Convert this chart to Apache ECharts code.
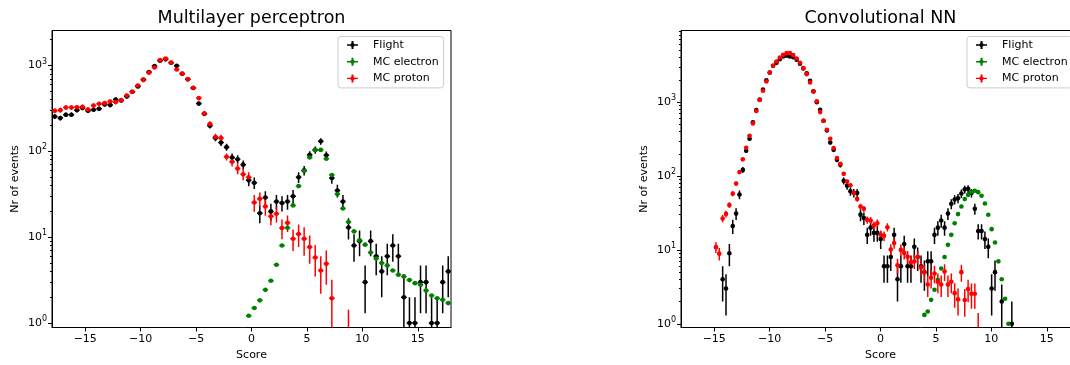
<!DOCTYPE html>
<html><head><meta charset="utf-8">
<script src="https://cdn.jsdelivr.net/npm/echarts@6/dist/echarts.min.js"></script>
<style>html,body{margin:0;padding:0;background:#fff}#c{width:1070px;height:365px}</style>
</head><body><div id="c"></div>
<script>
// ---------- data ----------
const titles = ['Multilayer perceptron', 'Convolutional NN'];
const seriesNames = ['Flight', 'MC electron', 'MC proton'];
const xTicks = [-15, -10, -5, 0, 5, 10, 15];
const yMajorTicks = [1, 10, 100, 1000];
const yMinorTicksLeft = [2,3,4,5,6,7,8,9,20,30,40,50,60,70,80,90,200,300,400,500,600,700,800,900,2000];
const yMinorTicksRight = [2,3,4,5,6,7,8,9,20,30,40,50,60,70,80,90,200,300,400,500,600,700,800,900,2000,3000,4000,5000,6000,7000,8000,9000];

// Left panel (Multilayer perceptron), bin centres
const leftBins = [-17.75,-17.25,-16.75,-16.25,-15.75,-15.25,-14.75,-14.25,-13.75,-13.25,-12.75,-12.25,-11.75,-11.25,-10.75,-10.25,-9.75,-9.25,-8.75,-8.25,-7.75,-7.25,-6.75,-6.25,-5.75,-5.25,-4.75,-4.25,-3.75,-3.25,-2.75,-2.25,-1.75,-1.25,-0.75,-0.25,0.25,0.75,1.25,1.75,2.25,2.75,3.25,3.75,4.25,4.75,5.25,5.75,6.25,6.75,7.25,7.75,8.25,8.75,9.25,9.75,10.25,10.75,11.25,11.75,12.25,12.75,13.25,13.75,14.25,14.75,15.25,15.75,16.25,16.75,17.25,17.75];
const leftFlight = [255,244,267,267,302,320,297,305,313,351,346,402,391,435,494,569,687,838,984,1135,1180,1075,991,800,690,546,360,274,199,143,127,112,85,81,70,46,43,19,29,20,26,25,26,30,50,60,91,104,131,90,49,35,26,13,8,9,3,9,6,4,6,8,6,2,1,1,3,3,1,1,3,4];
const leftFlightErr = [16.0,15.6,16.3,16.3,17.4,17.9,17.2,17.5,17.7,18.7,18.6,20.0,19.8,20.9,22.2,23.9,26.2,28.9,31.4,33.7,34.4,32.8,31.5,28.3,26.3,23.4,19.0,16.6,14.1,12.0,11.3,10.6,9.2,9.0,8.4,6.8,6.6,4.4,5.4,4.5,5.1,5.0,5.1,5.5,7.1,7.7,9.5,10.2,11.4,9.5,7.0,5.9,5.1,3.6,2.8,3.0,1.7,3.0,2.4,2.0,2.4,2.8,2.4,1.4,1.0,1.0,1.7,1.7,1.0,1.0,1.7,2.0];
const leftElectron = [null,null,null,null,null,null,null,null,null,null,null,null,null,null,null,null,null,null,null,null,null,null,null,null,null,null,null,null,null,null,null,null,null,null,
  0.87,1.22,1.5,1.84,2.44,3.11,4.78,8.0,12.9,23.5,39.4,59.5,85,104,104,82,53,31.8,21.6,15,11.7,9.2,8.2,6.65,5.66,5.0,4.7,4.1,3.66,3.5,3.17,2.92,2.8,2.4,2.1,1.95,1.87,1.71];
const leftProton = [297,302,324,324,327,330,307,342,358,365,381,375,395,447,494,585,676,822,948,1156,1205,1084,898,807,693,550,417,276,208,147,143,86.5,75.5,63,54,50,25.4,28,22.8,17.5,18.8,12.8,14.7,9.6,10.9,9.6,7.7,5.8,4.1,4.9,1.95,null,null,0.7,
  null,null,null,null,null,null,null,null,null,null,null,null,null,null,null,null,null,null];
const leftProtonErr = [19,19,20,20,20,20,19,20,21,21,21,21,22,23,24,27,29,32,34,37,38,36,33,31,29,26,22,18,16,13,13,8,9,9,8,7,5.6,5.3,5,3.7,4,3.3,3.2,2.7,3.2,3.5,2.8,2.3,1.9,2.1,1.25,0,0,0.73,
  0,0,0,0,0,0,0,0,0,0,0,0,0,0,0,0,0,0];

// Right panel (Convolutional NN), bin centres
const rightBins = [-14.848,-14.545,-14.242,-13.938,-13.635,-13.331,-13.028,-12.725,-12.421,-12.118,-11.815,-11.511,-11.208,-10.904,-10.601,-10.298,-9.994,-9.691,-9.388,-9.084,-8.781,-8.478,-8.174,-7.871,-7.567,-7.264,-6.961,-6.657,-6.354,-6.051,-5.747,-5.444,-5.140,-4.837,-4.534,-4.230,-3.927,-3.624,-3.320,-3.017,-2.713,-2.410,-2.107,-1.803,-1.500,-1.197,-0.893,-0.590,-0.287,0.017,0.320,0.624,0.927,1.230,1.534,1.837,2.140,2.444,2.747,3.051,3.354,3.657,3.961,4.264,4.567,4.871,5.174,5.478,5.781,6.084,6.388,6.691,6.994,7.298,7.601,7.904,8.208,8.511,8.815,9.118,9.421,9.725,10.028,10.331,10.635,10.938,11.242,11.545,11.848];
const rightFlight = [null,null,4,3,9,21,31,56,121,220,319,535,780,1080,1480,1980,2520,3100,3400,3800,4150,4250,4150,4050,3740,3300,2850,2450,1944,1400,1000,787,560,413,284,226,166,142,86,74,62,59,59,30,27,16,20,17,17,14,6,6,8,16,4,6,12,6,6,11,8,6,5,7,7,16,20,25,20,31,42,48,50,58,66,67,59,36,18,18,14,11,3,5,null,2,null,null,1];
const rightFlightErr = [0,0,2.0,1.7,3.0,4.6,5.6,7.5,11,14.8,17.9,23.1,27.9,32.9,38.5,44.5,50.2,55.7,58.3,61.6,64.4,65.2,64.4,63.6,61.2,57.4,53.4,49.5,44.1,37.4,31.6,28.1,23.7,20.3,16.9,15.0,12.9,11.9,9.3,8.6,7.9,7.7,7.7,5.5,5.2,4.0,4.5,4.1,4.1,3.7,2.4,2.4,2.8,4.0,2.0,2.4,3.5,2.4,2.4,3.3,2.8,2.4,2.2,2.6,2.6,4.0,4.5,5.0,4.5,5.6,6.5,6.9,7.1,7.6,8.1,8.2,7.7,6.0,4.2,4.2,3.7,3.3,1.7,2.2,0,1.4,0,0,1.0];
const rightElectron = [null,null,null,null,null,null,null,null,null,null,null,null,null,null,null,null,null,null,null,null,null,null,null,null,null,null,null,null,null,null,null,null,null,null,null,null,null,null,null,null,null,null,null,null,null,null,null,null,null,null,null,null,null,null,null,null,null,null,null,null,null,
  0.88,1.32,1.47,2.11,2.89,3.94,5.6,8.0,11.7,16,23,30.5,38.7,48.7,55.5,61.2,63.1,60.5,54,42.5,29.9,19.1,12.6,7.0,4.0,2.18,1.0,null];
const rightProton = [10.9,8.9,26.6,30.7,40.5,57.7,79,113,168,241,350,515,758,1070,1423,1900,2505,3100,3550,4018,4372,4600,4600,4350,3900,3404,2887,2393,1846,1393,1030,733,559,423,319,239,175,146,107,84,75,59,49,38.7,36,25.5,25,21.5,23,16,15.5,20.3,10.1,12.4,6.2,10,9.1,8.1,6.8,7,8,5.8,5.0,3.4,4.2,4.8,3.7,3.4,5.1,3.4,3.7,2.6,2.15,5.0,2.1,2.95,2.55,2.55,0.7,
  null,null,null,null,null,null,null,null,null,null];
const rightProtonErr = [1.8,1.7,3,3.2,3.6,4.3,5,6,7,9,11,13,16,19,22,25,29,32,34,36,38,39,39,38,36,33,31,28,25,21,18,15,13,12,10,8.5,7.5,7,6,5.3,5,4.5,4,3.6,3.4,2.9,2.9,2.7,2.8,2.3,2.3,2.6,1.8,2,1.4,1.8,1.7,1.6,1.5,1.5,1.6,1.4,1.3,1.1,1.2,1.3,1.1,1.1,1.3,1.1,1.1,0.95,0.85,1.3,0.85,1.0,0.95,0.95,0.7,
  0,0,0,0,0,0,0,0,0,0];

// ---------- styling ----------
const FONT = 'DejaVu Sans';
const COLORS = ['#000000', '#008000', '#ff0000'];
const plusIcon = 'path://M0,3.3L11,3.3L11,4.7L0,4.7Z M4.5,0L6.5,0L6.5,8L4.5,8Z M5.5,1.8L7.1,2.4L7.7,4L7.1,5.6L5.5,6.2L3.9,5.6L3.3,4L3.9,2.4Z';

const panels = [
  { bins: leftBins, halfW: 0.25, ymin: 0.889, ymax: 2556, minor: yMinorTicksLeft, left: 52, center: 251.5,
    sets: [[leftFlight, leftFlightErr], [leftElectron, null], [leftProton, leftProtonErr]], legendLeft: 338 },
  { bins: rightBins, halfW: 0.1517, ymin: 0.891, ymax: 9320, minor: yMinorTicksRight, left: 681, center: 880.5,
    sets: [[rightFlight, rightFlightErr], [rightElectron, null], [rightProton, rightProtonErr]], legendLeft: 967 }
];

const grid = [], xAxis = [], yAxis = [], series = [], title = [], legend = [];
panels.forEach((p, g) => {
  grid.push({ left: p.left, top: 30.5, width: 399, height: 297, show: true, borderColor: '#000', borderWidth: 1,
    containLabel: false, outerBoundsMode: 'none' });
  title.push({ text: titles[g], left: p.center, top: 9, padding: 0, textAlign: 'center',
    textStyle: { fontFamily: FONT, fontSize: 17.5, fontWeight: 'normal', color: '#000' } });
  xAxis.push({ gridIndex: g, type: 'value', min: -18, max: 18, position: 'bottom',
    axisLine: { show: true, onZero: false, lineStyle: { color: '#000', width: 1 } },
    axisTick: { show: true, customValues: xTicks, length: 4, lineStyle: { color: '#000', width: 1 } },
    axisLabel: { customValues: xTicks, margin: 6, fontFamily: FONT, fontSize: 11, color: '#000',
      formatter: v => String(v).replace('-', '\u2212') },
    splitLine: { show: false },
    name: 'Score', nameLocation: 'middle', nameGap: 21,
    nameTextStyle: { fontFamily: FONT, fontSize: 11, color: '#000' } });
  yAxis.push({ gridIndex: g, type: 'log', logBase: 10, min: p.ymin, max: p.ymax, position: 'left',
    axisLine: { show: true, onZero: false, lineStyle: { color: '#000', width: 1 } },
    axisTick: { show: true, customValues: yMajorTicks, length: 4, lineStyle: { color: '#000', width: 1 } },
    axisLabel: { customValues: yMajorTicks, margin: 5, color: '#000',
      formatter: v => '{b|10}{s|' + Math.round(Math.log10(v)) + '}',
      rich: { b: { fontFamily: FONT, fontSize: 11, lineHeight: 16, color: '#000' },
              s: { fontFamily: FONT, fontSize: 8, lineHeight: 8, verticalAlign: 'top', color: '#000' } } },
    splitLine: { show: false }, minorTick: { show: false },
    name: 'Nr of events', nameLocation: 'middle', nameGap: 31.5,
    nameTextStyle: { fontFamily: FONT, fontSize: 11, color: '#000' } });
  yAxis.push({ gridIndex: g, type: 'log', logBase: 10, min: p.ymin, max: p.ymax, position: 'left',
    axisLine: { show: false, onZero: false },
    axisTick: { show: true, customValues: p.minor, length: 2, lineStyle: { color: '#000', width: 1 } },
    axisLabel: { show: false }, splitLine: { show: false } });

  p.sets.forEach(([vals, errs], s) => {
    const color = COLORS[s];
    const pts = [], ebars = [];
    p.bins.forEach((x, i) => {
      const v = vals[i];
      if (v == null || v <= 0) return;
      pts.push([x, v]);
      ebars.push([x, v, errs ? (errs[i] || 0) : 0, p.halfW]);
    });
    series.push({
      type: 'custom', name: seriesNames[s] + ' err', xAxisIndex: g, yAxisIndex: g * 2, clip: true, silent: true,
      data: ebars, encode: { x: 0, y: 1 },
      renderItem: (params, api) => {
        const x = api.value(0), y = api.value(1), e = api.value(2), h = api.value(3);
        const c = api.coord([x, y]);
        const l = api.coord([x - h, y]), r = api.coord([x + h, y]);
        const children = [{ type: 'line', shape: { x1: l[0], y1: c[1], x2: r[0], y2: c[1] },
          style: { stroke: color, lineWidth: 1.5 } }];
        if (e > 0) {
          const lo = api.coord([x, Math.max(y - e, 1e-3)]), hi = api.coord([x, y + e]);
          children.push({ type: 'line', shape: { x1: c[0], y1: lo[1], x2: c[0], y2: hi[1] },
            style: { stroke: color, lineWidth: 1.5 } });
        }
        return { type: 'group', children };
      }
    });
    series.push({
      type: 'scatter', name: seriesNames[s], xAxisIndex: g, yAxisIndex: g * 2, clip: true,
      symbol: 'circle', symbolSize: 4.6, itemStyle: { color: color, opacity: 1 },
      data: pts, silent: true
    });
  });

  legend.push({ orient: 'vertical', left: p.legendLeft, top: 36.5, padding: [2, 5, 3, 9],
    itemWidth: 11, itemHeight: 8, itemGap: 3.7, selectedMode: false,
    backgroundColor: 'rgba(255,255,255,0.8)', borderColor: '#cccccc', borderWidth: 1, borderRadius: 3,
    data: seriesNames.map(n => ({ name: n, icon: plusIcon })),
    textStyle: { fontFamily: FONT, fontSize: 11, color: '#000', lineHeight: 13, padding: [0, 0, 0, 10] } });
});

const chart = echarts.init(document.getElementById('c'), null, { renderer: 'canvas' });
chart.setOption({ animation: false, backgroundColor: '#fff', title, legend, grid, xAxis, yAxis, series });
</script>
</body></html>
